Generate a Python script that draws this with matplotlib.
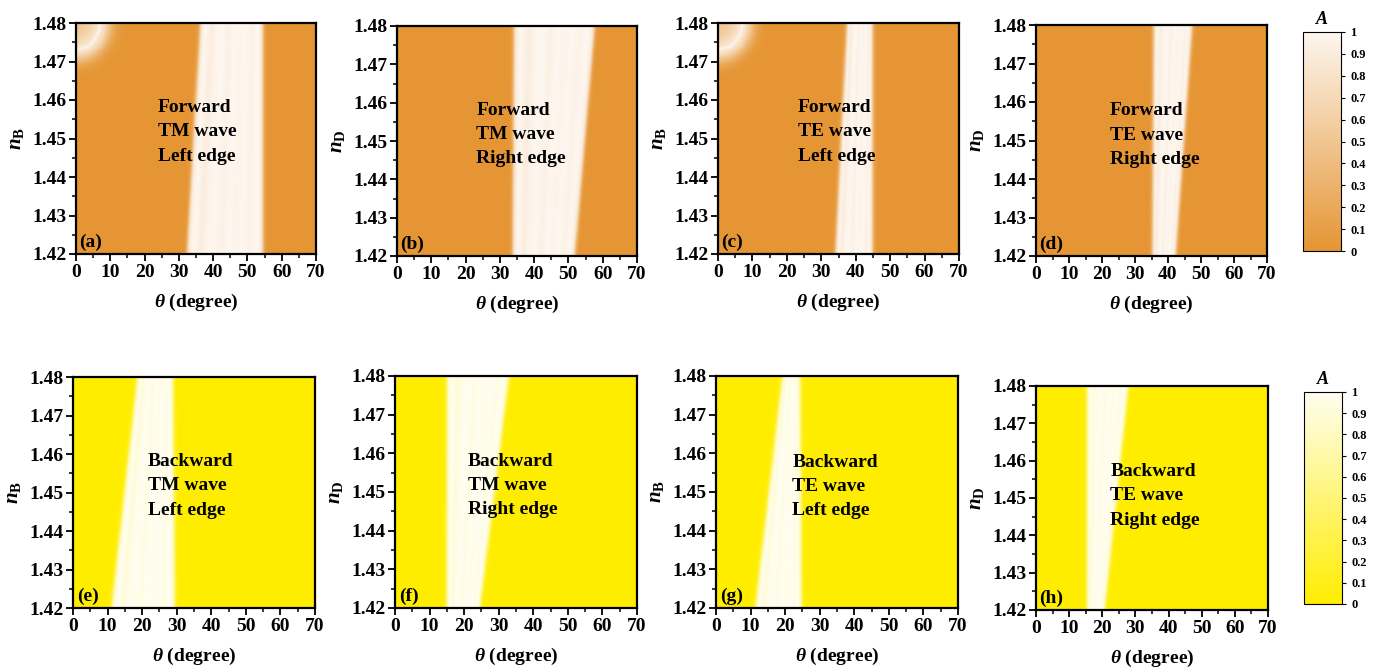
import numpy as np
import matplotlib
matplotlib.use('Agg')
import matplotlib.pyplot as plt
from matplotlib.colors import LinearSegmentedColormap
from matplotlib.ticker import MultipleLocator

plt.rcParams['font.family'] = ['Liberation Serif', 'DejaVu Serif']
plt.rcParams['font.weight'] = 'bold'
plt.rcParams['mathtext.fontset'] = 'custom'
plt.rcParams['mathtext.rm'] = 'Liberation Serif:bold'
plt.rcParams['mathtext.it'] = 'Liberation Serif:italic:bold'
plt.rcParams['mathtext.bf'] = 'Liberation Serif:bold'
plt.rcParams['axes.linewidth'] = 1.6

# grid of the maps
theta = np.linspace(0, 70, 701)
n_index = np.linspace(1.42, 1.48, 241)

panel_tags = ['(a)', '(b)', '(c)', '(d)', '(e)', '(f)', '(g)', '(h)']
direction = ['Forward'] * 4 + ['Backward'] * 4
polar = ['TM', 'TM', 'TE', 'TE', 'TM', 'TM', 'TE', 'TE']
edge_name = ['Left edge', 'Right edge'] * 4
y_sub = ['B', 'D'] * 4

# absorption band edges (degree), read at n = 1.42 and n = 1.48
left_lo = [32.3, 33.7, 34.0, 35.2, 11.1, 14.9, 11.3, 15.3]
left_hi = [36.2, 34.1, 37.4, 35.6, 18.6, 15.0, 19.2, 15.3]
right_lo = [54.6, 51.9, 45.0, 42.4, 29.5, 24.6, 24.8, 20.8]
right_hi = [54.6, 57.7, 45.0, 47.4, 29.0, 33.0, 24.4, 27.9]
# faint stripes inside the band, left -> right
band_profile = [0.9, 1.0, 0.9, 0.98, 1.0, 0.94, 1.0, 0.97, 1.0, 0.95, 1.0, 0.93]
# bright arc in the upper left corner of (a) and (c)
has_glow = [True, False, True, False, False, False, False, False]
glow_theta, glow_n = 7.0, 0.0068

W, H = 1376, 670
# axes boxes in pixels: left, right, top, bottom
boxes = [(76, 316, 23, 254), (397, 637, 26, 256), (718, 959, 23, 254), (1036, 1267, 25, 256),
         (73, 315, 377, 608), (395, 637, 376, 608), (716, 958, 376, 608), (1036, 1268, 386, 610)]
cbar_boxes = [(1303, 1341, 32, 251), (1304, 1342, 392, 604)]
# top-left of the annotation text, axes fraction
text_pos = [(0.34, 0.67), (0.33, 0.67), (0.33, 0.67), (0.32, 0.665),
            (0.31, 0.67), (0.30, 0.67), (0.315, 0.665), (0.32, 0.655)]

cmap_or = LinearSegmentedColormap.from_list('or', ['#E59534', '#FDF6EF'])
cmap_ye = LinearSegmentedColormap.from_list('ye', ['#FFED00', '#FFFDF0'])


def rect(b):
    l, r, t, bt = b
    return [l / W, 1 - bt / H, (r - l) / W, (bt - t) / H]


def absorption(i):
    T, N = np.meshgrid(theta, n_index)
    s = (N - 1.42) / 0.06
    left = left_lo[i] + (left_hi[i] - left_lo[i]) * s
    right = right_lo[i] + (right_hi[i] - right_lo[i]) * s
    frac = (T - left) / (right - left)
    stripes = np.interp(frac, np.linspace(0, 1, len(band_profile)), band_profile)
    inside = 1 / (1 + np.exp(-(T - left) / 0.3)) / (1 + np.exp(-(right - T) / 0.3))
    A = inside * stripes
    if has_glow[i]:
        r = np.sqrt((T / glow_theta) ** 2 + ((1.48 - N) / glow_n) ** 2)
        ring = 0.95 * np.exp(-((r - 1) / 0.22) ** 2)
        tail = np.where(r < 1, 0.5 + 0.4 * r ** 2, 0.85 * np.exp(-((r - 1) / 0.5) ** 2))
        A = np.maximum(A, np.maximum(ring, tail))
    return A


fig = plt.figure(figsize=(W / 100, H / 100), dpi=100)

for i in range(8):
    ax = fig.add_axes(rect(boxes[i]))
    cmap = cmap_or if i < 4 else cmap_ye
    im = ax.pcolormesh(theta, n_index, absorption(i), cmap=cmap, vmin=0, vmax=1,
                       shading='auto', rasterized=True)
    ax.set_xlim(0, 70)
    ax.set_ylim(1.42, 1.48)
    ax.xaxis.set_major_locator(MultipleLocator(10))
    ax.xaxis.set_minor_locator(MultipleLocator(5))
    ax.yaxis.set_minor_locator(MultipleLocator(0.005))
    ax.set_yticks(np.round(np.arange(1.42, 1.481, 0.01), 2))
    ax.set_yticklabels([f'{v:.2f}' for v in np.arange(1.42, 1.481, 0.01)])
    ax.tick_params(which='major', length=5, width=1.3, labelsize=14, pad=2)
    ax.tick_params(which='minor', length=3, width=1.1)
    ax.set_xlabel(r'$\theta$ (degree)', fontsize=14, fontweight='bold', labelpad=8)
    ax.set_ylabel(r'$n_{\rm %s}$' % y_sub[i], fontsize=15, labelpad=4)
    tx, ty = text_pos[i]
    ax.text(tx, ty, f'{direction[i]}\n{polar[i]} wave\n{edge_name[i]}',
            transform=ax.transAxes, ha='left', va='top', fontsize=14,
            fontweight='bold', linespacing=1.55)
    ax.text(0.015, 0.015, panel_tags[i], transform=ax.transAxes, ha='left',
            va='bottom', fontsize=14, fontweight='bold')
    if i in (3, 7):
        cax = fig.add_axes(rect(cbar_boxes[i // 4]))
        cb = fig.colorbar(im, cax=cax, ticks=np.arange(0, 1.01, 0.1))
        cb.ax.set_yticklabels(['0'] + [f'{v:.1f}' for v in np.arange(0.1, 0.95, 0.1)] + ['1'])
        cb.ax.tick_params(length=3, width=0.8, labelsize=9)
        cb.outline.set_linewidth(0.8)
        cax.set_title(r'$A$', fontsize=13, pad=6)

fig.savefig('out.png', dpi=100)
